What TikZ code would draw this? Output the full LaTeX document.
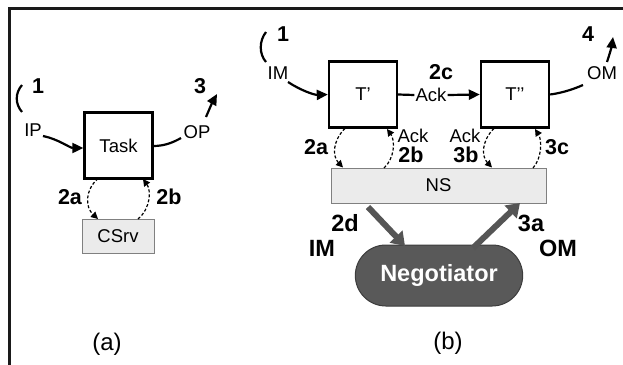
\documentclass[tikz,border=0pt]{standalone}
\usepackage{fontspec}
\setmainfont{Liberation Sans}
\usetikzlibrary{arrows.meta,shapes.misc}
\definecolor{frm}{HTML}{1A1A1A}
\definecolor{boxgray}{HTML}{EBEBEB}
\definecolor{boxedge}{HTML}{808080}
\definecolor{neg}{HTML}{595959}
\definecolor{negedge}{HTML}{3C3C3C}
\definecolor{thickarr}{HTML}{555555}
\tikzset{
  txt/.style={inner sep=1pt,font=\fontsize{18.5}{20}\selectfont},
  lbl/.style={inner sep=1pt,font=\fontsize{21.5}{23}\selectfont\bfseries},
  biglbl/.style={inner sep=1pt,font=\fontsize{23.5}{25}\selectfont\bfseries},
  captxt/.style={inner sep=1pt,font=\fontsize{24}{26}\selectfont},
  taskbox/.style={draw=black,line width=2.4pt,fill=white,minimum width=68pt,minimum height=66pt,inner sep=0pt,font=\fontsize{18.5}{20}\selectfont},
  srvbox/.style={draw=boxedge,line width=0.8pt,fill=boxgray,inner sep=0pt,font=\fontsize{18.5}{20}\selectfont},
  solidarr/.style={line width=2.2pt,-{Triangle[length=11pt,width=10pt]}},
  plainline/.style={line width=2.2pt},
  dasharr/.style={line width=1.2pt,dash pattern=on 3pt off 2pt,-{Triangle[length=7pt,width=7pt]}},
  fatarr/.style={line width=6pt,draw=thickarr,-{Triangle[length=13pt,width=17pt]}},
}
\begin{document}
\begin{tikzpicture}[x=1pt,y=-1pt]
\useasboundingbox (0,0) rectangle (623,364);
% frame
\draw[frm,line width=3pt] (9,366) -- (9,8) -- (625,8);

% ---------- (a) ----------
\node[taskbox] (task) at (118.5,145.5) {Task};
\node[srvbox,minimum width=72pt,minimum height=34pt] (csrv) at (118,236) {CSrv};
\node[lbl] (a1) at (38,86) {1};
\node[txt] (ip) at (33,130) {IP};
\node[txt] (op) at (197,132) {OP};
\node[lbl] (a3) at (200,86) {3};
\node[lbl] (a2a) at (70,197) {2a};
\node[lbl] (a2b) at (169,197) {2b};
\node[captxt] (capa) at (107,344) {(a)};
\coordinate (aparT) at (22,85);
\coordinate (aparB) at (22,112);
\coordinate (ipS) at (43,136);
\coordinate (opE) at (181,138);
\coordinate (opA) at (206,117);
\coordinate (opB) at (217,94);
\draw[plainline] (aparT) .. controls (15,93) and (15,104) .. (aparB);
\draw[solidarr] (ipS) .. controls (58,139) and (70,148) .. (task.west |- 0,148);
\draw[plainline] (task.east |- 0,146) .. controls (165,146) and (174,142) .. (opE);
\draw[solidarr] (opA) .. controls (209,110) and (212,103) .. (opB);
\coordinate (t2aS) at (98,178.5);
\coordinate (t2aE) at (98,219);
\coordinate (t2bS) at (138,219);
\coordinate (t2bE) at (143,179);
\draw[dasharr] (t2aS) .. controls (85,190) and (85,207) .. (t2aE);
\draw[dasharr] (t2bS) .. controls (151,208) and (151,190) .. (t2bE);

% ---------- (b) ----------
\node[taskbox] (tp) at (363,94.5) {T’};
\node[taskbox] (tpp) at (515,94.5) {T’’};
\node[srvbox,minimum width=215pt,minimum height=35pt] (ns) at (438.5,185.5) {NS};
\node[rounded rectangle,fill=neg,draw=negedge,line width=1pt,minimum width=174pt,minimum height=61pt,text=white,font=\fontsize{23.5}{26}\selectfont\bfseries] (negot) at (439,275.5) {Negotiator};

\node[lbl] (b1) at (283,34) {1};
\node[txt] (im) at (278,73) {IM};
\node[lbl] (b2c) at (441,72) {2c};
\node[txt] (ack) at (431,95) {Ack};
\node[txt] (om) at (602,73) {OM};
\node[lbl] (b4) at (588,34) {4};
\node[lbl] (b2a) at (316,147) {2a};
\node[txt] (ack2b) at (413,136) {Ack};
\node[lbl] (b2b) at (411,155) {2b};
\node[txt] (ack3b) at (465,136) {Ack};
\node[lbl] (b3b) at (466,155) {3b};
\node[lbl] (b3c) at (557,147) {3c};
\node[biglbl] (b2d) at (345,223) {2d};
\node[biglbl] (b3a) at (531,223) {3a};
\node[biglbl] (bim) at (322,248) {IM};
\node[biglbl] (bom) at (558,248) {OM};
\node[captxt] (capb) at (448,343) {(b)};

\coordinate (bparT) at (266,32);
\coordinate (bparB) at (266,62);
\coordinate (imS) at (288,82);
\coordinate (omE) at (583,85);
\coordinate (omA) at (607,62);
\coordinate (omB) at (613,37);
\draw[plainline] (bparT) .. controls (259,41) and (259,54) .. (bparB);
\draw[solidarr] (imS) .. controls (300,90) and (314,95) .. (tp.west);
\draw[plainline] (tp.east) -- (ack.west);
\draw[solidarr] (ack.east) -- (tpp.west);
\draw[plainline] (tpp.east) .. controls (562,93) and (574,89) .. (omE);
\draw[solidarr] (omA) .. controls (610,53) and (612,45) .. (omB);

\coordinate (r2aS) at (345,128.5);
\coordinate (r2aE) at (343,167.5);
\coordinate (r2bS) at (384,168);
\coordinate (r2bE) at (387,129);
\coordinate (r3bS) at (494,128.5);
\coordinate (r3bE) at (492,167.5);
\coordinate (r3cS) at (533,168);
\coordinate (r3cE) at (535,129);
\draw[dasharr] (r2aS) .. controls (333,140) and (332,156) .. (r2aE);
\draw[dasharr] (r2bS) .. controls (395,158) and (395,140) .. (r2bE);
\draw[dasharr] (r3bS) .. controls (482,140) and (481,156) .. (r3bE);
\draw[dasharr] (r3cS) .. controls (542,158) and (542,140) .. (r3cE);

\coordinate (d2S) at (368,207);
\coordinate (d2E) at (405,246);
\coordinate (a3S) at (473,248);
\coordinate (a3E) at (520,203);
\draw[fatarr] (d2S) -- (d2E);
\draw[fatarr] (a3S) -- (a3E);
\end{tikzpicture}
\end{document}
